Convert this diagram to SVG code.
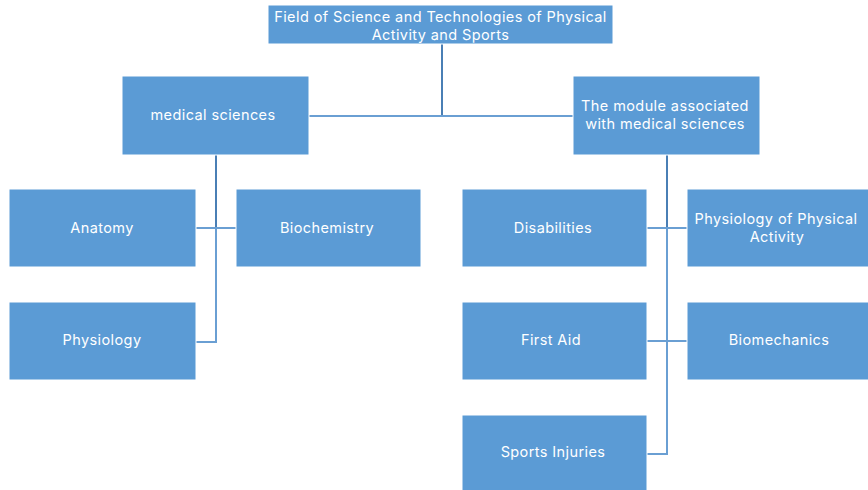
<svg xmlns="http://www.w3.org/2000/svg" width="868" height="490" viewBox="0 0 868 490">
<style>
.box{fill:#5B9BD5;stroke:#ffffff;stroke-width:1}
.t{fill:#ffffff;font-family:Inter,"Open Sans",sans-serif;font-size:14.5px;letter-spacing:0.4px;text-anchor:middle}
.c{fill:none;stroke:#6A9FD3;stroke-width:2}
.cd{fill:none;stroke:#4A7FB5;stroke-width:2}
</style>
<rect width="868" height="490" fill="#ffffff"/>
<g id="connectors">
<path class="cd" d="M442,44 V116"/>
<path class="c" d="M309,116 H573"/>
<path class="cd" d="M216,155 V228"/>
<path class="c" d="M216,228 V342 H196"/>
<path class="c" d="M196,228 H236"/>
<path class="cd" d="M667,155 V228"/>
<path class="c" d="M667,228 V454 H647"/>
<path class="c" d="M647,228 H687"/>
<path class="c" d="M647,341 H687"/>
</g>
<g id="root"><rect class="box" x="268" y="5" width="345" height="39"/><text class="t" x="440.5" y="22">Field of Science and Technologies of Physical</text><text class="t" x="440.5" y="40">Activity and Sports</text></g>
<g id="medical"><rect class="box" x="122" y="76" width="187" height="79"/><text class="t" x="213" y="120">medical sciences</text></g>
<g id="module"><rect class="box" x="573" y="76" width="187" height="79"/><text class="t" x="665" y="111">The module associated</text><text class="t" x="665" y="129">with medical sciences</text></g>
<g id="anatomy"><rect class="box" x="9" y="189" width="187" height="78"/><text class="t" x="102" y="233">Anatomy</text></g>
<g id="biochemistry"><rect class="box" x="236" y="189" width="185" height="78"/><text class="t" x="327" y="233">Biochemistry</text></g>
<g id="physiology"><rect class="box" x="9" y="302" width="187" height="78"/><text class="t" x="102" y="345">Physiology</text></g>
<g id="disabilities"><rect class="box" x="462" y="189" width="185" height="78"/><text class="t" x="553" y="233">Disabilities</text></g>
<g id="physact"><rect class="box" x="687" y="189" width="185" height="78"/><text class="t" x="776" y="224">Physiology of Physical</text><text class="t" x="777" y="242">Activity</text></g>
<g id="firstaid"><rect class="box" x="462" y="302" width="185" height="78"/><text class="t" x="551" y="345">First Aid</text></g>
<g id="biomechanics"><rect class="box" x="687" y="302" width="185" height="78"/><text class="t" x="779" y="345">Biomechanics</text></g>
<g id="sportsinjuries"><rect class="box" x="462" y="415" width="185" height="80"/><text class="t" x="553" y="457">Sports Injuries</text></g>
</svg>
